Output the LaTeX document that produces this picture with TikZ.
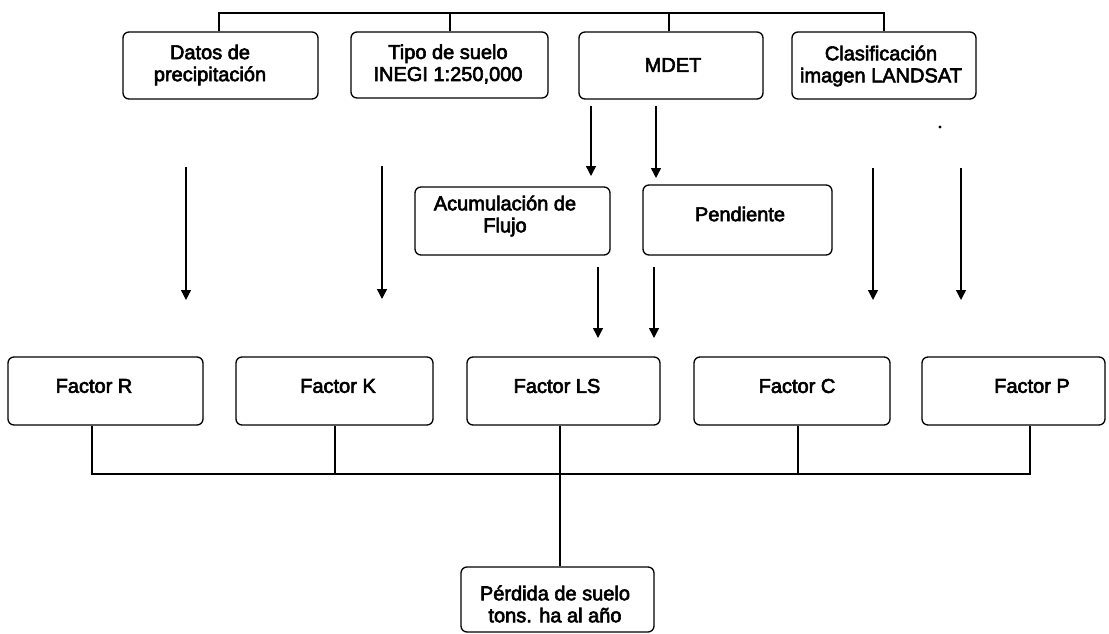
\documentclass[tikz,border=0pt]{standalone}
\usepackage{fontspec}
\setmainfont{Liberation Sans}
\newfontfamily\boxfont{Liberation Sans}[FakeBold=3]
\usetikzlibrary{arrows.meta}
\tikzset{
  box/.style={draw=black, line width=1.3pt, rounded corners=6pt, inner sep=0pt, fill=white},
  txt/.style={font=\boxfont\fontsize{20}{22}\selectfont, align=center, inner sep=0pt, text=black},
  bus/.style={draw=black, line width=1.8pt},
  arr/.style={draw=black, line width=1.4pt, -{Triangle[width=10pt,length=10pt]}}
}
\begin{document}
\begin{tikzpicture}[x=1pt,y=-1pt]
\useasboundingbox (0,0) rectangle (1109,634);
% top boxes
\node[box, minimum width=195pt, minimum height=67pt] (datos) at (220.5,65.5) {};
\node[box, minimum width=197pt, minimum height=66pt] (tipo) at (449.5,65) {};
\node[box, minimum width=184pt, minimum height=67pt] (mdet) at (671,65.5) {};
\node[box, minimum width=184pt, minimum height=67pt] (clas) at (884,65.5) {};
\node[txt] (datos-t) at (210,65) {Datos de\\precipitación};
\node[txt] (tipo-t) at (448,64) {Tipo de suelo\\INEGI 1:250,000};
\node[txt] (mdet-t) at (673,65) {MDET};
\node[txt] (clas-t) at (881,66) {Clasificación\\imagen LANDSAT};
% middle boxes
\node[box, minimum width=195pt, minimum height=68pt] (acum) at (512.5,221) {};
\node[box, minimum width=189pt, minimum height=70pt] (pend) at (737.5,220) {};
\node[txt] (acum-t) at (505,216) {Acumulación de\\Flujo};
\node[txt] (pend-t) at (740,214) {Pendiente};
% factor boxes
\node[box, minimum width=195pt, minimum height=68pt] (R) at (105.5,391) {};
\node[box, minimum width=197pt, minimum height=68pt] (K) at (334.5,391) {};
\node[box, minimum width=193pt, minimum height=68pt] (LS) at (563.5,391) {};
\node[box, minimum width=196pt, minimum height=68pt] (C) at (792,391) {};
\node[box, minimum width=183pt, minimum height=68pt] (P) at (1013.5,391) {};
\node[txt] (R-t) at (94,386) {Factor R};
\node[txt] (K-t) at (338,386) {Factor K};
\node[txt] (LS-t) at (557,386) {Factor LS};
\node[txt] (C-t) at (797,386) {Factor C};
\node[txt] (P-t) at (1032,386) {Factor P};
% result box
\node[box, minimum width=193pt, minimum height=65pt] (perd) at (557.5,599.5) {};
\node[txt] (perd-t) at (555,604) {Pérdida de suelo\\tons. ha al año};
% top bus
\coordinate (tbus) at (0,13);
\draw[bus] ([xshift=-1.5pt]datos.north) |- (clas.north |- tbus) -- (clas.north);
\draw[bus] ([xshift=0.5pt]tipo.north) -- ([xshift=0.5pt]tipo.north |- tbus);
\draw[bus] ([xshift=-2pt]mdet.north) -- ([xshift=-2pt]mdet.north |- tbus);
% bottom bus
\draw[bus] ([xshift=-13.5pt]R.south) -- ++(0,48) -| ([xshift=16.5pt]P.south);
\draw[bus] ([xshift=0.5pt]K.south) -- ++(0,48);
\draw[bus] ([xshift=6pt]C.south) -- ++(0,48);
\draw[bus] ([xshift=-3.5pt]LS.south) -- ([xshift=2.5pt]perd.north);
% arrows
\coordinate (a1s) at (186,167); \coordinate (a1e) at (186,300);
\coordinate (a2s) at (382,166); \coordinate (a2e) at (382,299);
\coordinate (a3s) at (873,168); \coordinate (a3e) at (873,300);
\coordinate (a4s) at (961,168); \coordinate (a4e) at (961,300);
\coordinate (a5s) at (591,106); \coordinate (a5e) at (591,176);
\coordinate (a6s) at (656,106); \coordinate (a6e) at (656,178);
\coordinate (a7s) at (598,267); \coordinate (a7e) at (598,338);
\coordinate (a8s) at (654,267); \coordinate (a8e) at (654,338);
\foreach \i in {1,...,8} { \draw[arr] (a\i s) -- (a\i e); }
% stray dot
\fill[black] (940,127) circle (1.6pt);
\end{tikzpicture}
\end{document}
